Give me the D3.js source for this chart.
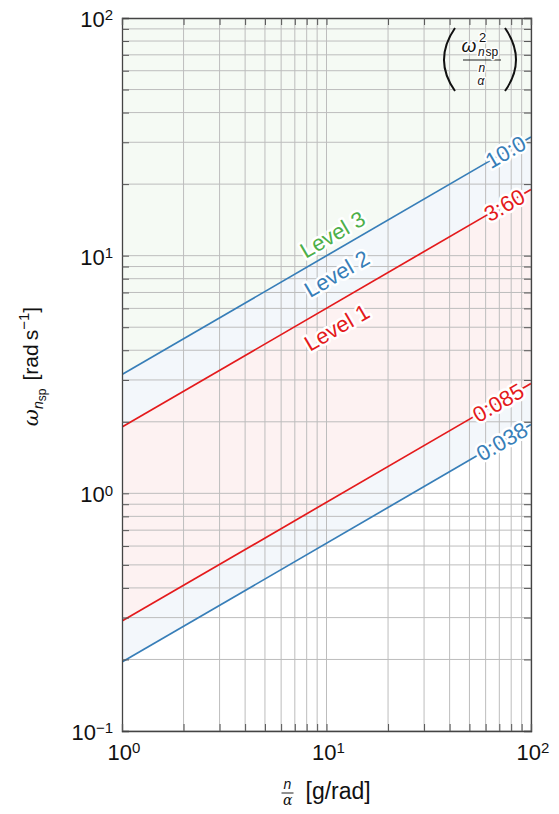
<!DOCTYPE html>
<html>
<head>
<script src="https://d3js.org/d3.v7.min.js"></script>
<style>
  body { margin: 0; background: #fff; }
  text { font-family: "Liberation Sans", Arial, sans-serif; fill: #111; }
  .halo { paint-order: stroke; stroke: #fff; stroke-width: 5px; stroke-linejoin: round; }
  .halo2 { paint-order: stroke; stroke: #fff; stroke-width: 3px; stroke-linejoin: round; }
</style>
</head>
<body>
<svg id="main" width="559" height="814"></svg>
<script>
// boundary values of omega^2/(n/alpha)
var boundaryNames = ["0:038", "0:085", "3:60", "10:0"];
// omega at n/alpha = 1 and at n/alpha = 100
var omegaAtLeft = [0.195, 0.29, 1.9, 3.16];
var omegaAtRight = [1.95, 2.9, 19.0, 31.6];
var boundaryLabelX = [72, 69, 74, 75];

var levelNames = ["Level 3", "Level 2", "Level 1"];
var levelX = [10.7, 11.2, 11.2];
var levelY = [12.3, 8.4, 5.0];

var xTicks = [1, 10, 100];
var yTicks = [0.1, 1, 10, 100];

var lineColors = ["#377eb8", "#e41a1c", "#e41a1c", "#377eb8"];
var levelColors = ["#4daf4a", "#377eb8", "#e41a1c"];
// bands: [lower boundary index, upper boundary index (-1 = top)]
var bandLow = [0, 1, 2, 3];
var bandHigh = [1, 2, 3, -1];
var bandColors = ["#377eb8", "#e41a1c", "#377eb8", "#4daf4a"];

var margin = {left: 122, top: 18, right: 28, bottom: 83};
var W = 559 - margin.left - margin.right;
var H = 814 - margin.top - margin.bottom;

var svg = d3.select("#main");
var g = svg.append("g").attr("transform", "translate(" + margin.left + "," + margin.top + ")");

var x = d3.scaleLog().domain([1, 100]).range([0, W]);
var y = d3.scaleLog().domain([0.1, 100]).range([H, 0]);

svg.append("defs").append("clipPath").attr("id", "clip")
  .append("rect").attr("width", W).attr("height", H);

function pts(i) {
  return [[1, omegaAtLeft[i]], [100, omegaAtRight[i]]];
}
function omegaAt(i, xv) {
  var t = Math.log10(xv) / 2;
  return Math.pow(10, Math.log10(omegaAtLeft[i]) + t * (Math.log10(omegaAtRight[i]) - Math.log10(omegaAtLeft[i])));
}

var plot = g.append("g").attr("clip-path", "url(#clip)");

// filled bands
bandLow.forEach(function(lo, k) {
  var hi = bandHigh[k];
  var upper = hi < 0 ? [[100, 1000], [1, 1000]] : pts(hi).reverse();
  var poly = pts(lo).concat(upper);
  plot.append("path")
    .attr("d", "M" + poly.map(function(p) { return x(p[0]) + "," + y(p[1]); }).join("L") + "Z")
    .attr("fill", bandColors[k]).attr("fill-opacity", 0.06);
});

// grid
plot.selectAll(".gx").data(x.ticks()).enter().append("line")
  .attr("x1", function(d) { return x(d); }).attr("x2", function(d) { return x(d); })
  .attr("y1", 0).attr("y2", H).attr("stroke", "#bdbdbd").attr("stroke-width", 1);
plot.selectAll(".gy").data(y.ticks()).enter().append("line")
  .attr("y1", function(d) { return y(d); }).attr("y2", function(d) { return y(d); })
  .attr("x1", 0).attr("x2", W).attr("stroke", "#bdbdbd").attr("stroke-width", 1);

// boundary lines
var line = d3.line().x(function(p) { return x(p[0]); }).y(function(p) { return y(p[1]); });
boundaryNames.forEach(function(name, i) {
  plot.append("path").attr("d", line(pts(i)))
    .attr("fill", "none").attr("stroke", lineColors[i]).attr("stroke-width", 1.7);
});

// frame ticks (inward)
var tickSize = 7;
var axes = [
  d3.axisLeft(y).tickValues(y.ticks()).tickSize(-tickSize).tickFormat(""),
  d3.axisRight(y).tickValues(y.ticks()).tickSize(-tickSize).tickFormat(""),
  d3.axisBottom(x).tickValues(x.ticks()).tickSize(-tickSize).tickFormat(""),
  d3.axisTop(x).tickValues(x.ticks()).tickSize(-tickSize).tickFormat("")
];
var axisPos = ["translate(0,0)", "translate(" + W + ",0)", "translate(0," + H + ")", "translate(0,0)"];
axes.forEach(function(a, k) {
  var ag = g.append("g").attr("transform", axisPos[k]).call(a);
  ag.selectAll("line").attr("stroke", "#555");
  ag.select(".domain").attr("stroke", "#444").attr("stroke-width", 1.3);
});

// tick labels
function powerLabel(sel, v) {
  var e = Math.round(Math.log10(v));
  sel.append("tspan").text("10");
  sel.append("tspan").attr("dy", "-0.45em").attr("font-size", "15px").text(e < 0 ? "\u2212" + (-e) : e);
}
yTicks.forEach(function(v) {
  var t = g.append("text").attr("x", -9).attr("y", y(v) + 9)
    .attr("text-anchor", "end").attr("font-size", "22px");
  powerLabel(t, v);
});
xTicks.forEach(function(v) {
  var t = g.append("text").attr("x", x(v) + 2).attr("y", H + 29)
    .attr("text-anchor", "middle").attr("font-size", "22px");
  powerLabel(t, v);
});

// boundary labels along the lines
var dx = x(100) - x(1);
boundaryNames.forEach(function(name, i) {
  var ang = Math.atan2(y(omegaAtRight[i]) - y(omegaAtLeft[i]), dx) * 180 / Math.PI;
  var lx = boundaryLabelX[i], ly = omegaAt(i, lx);
  g.append("text").attr("class", "halo")
    .attr("transform", "translate(" + x(lx) + "," + y(ly) + ") rotate(" + ang + ")")
    .attr("text-anchor", "middle").attr("dy", "0.36em")
    .attr("font-size", "22px").style("fill", lineColors[i]).text(name);
});

// level labels
var angL = Math.atan2(y(omegaAtRight[3]) - y(omegaAtLeft[3]), dx) * 180 / Math.PI;
levelNames.forEach(function(name, k) {
  g.append("text").attr("class", "halo")
    .attr("transform", "translate(" + x(levelX[k]) + "," + y(levelY[k]) + ") rotate(" + angL + ")")
    .attr("text-anchor", "middle").attr("dy", "0.36em")
    .attr("font-size", "22px").style("fill", levelColors[k]).text(name);
});

// legend in the top right corner: (omega^2 / (n/alpha))
var lg = g.append("g").attr("transform", "translate(" + (x(100) - 51) + ",42)");
function paren(s) {
  var xo = s * 25;
  return "M" + xo + ",-32 Q" + (xo + s * 22) + ",0 " + xo + ",31";
}
lg.append("path").attr("d", paren(-1)).attr("fill", "none").attr("stroke", "#111").attr("stroke-width", 2);
lg.append("path").attr("d", paren(1)).attr("fill", "none").attr("stroke", "#111").attr("stroke-width", 2);
lg.append("line").attr("x1", -17).attr("x2", 21).attr("y1", 0).attr("y2", 0).attr("stroke", "#222").attr("stroke-width", 1.2);
lg.append("text").attr("class", "halo2").attr("x", -18.5).attr("y", -8).attr("font-size", "19px")
  .style("font-style", "italic").attr("font-family", "DejaVu Serif").text("\u03c9");
lg.append("text").attr("class", "halo2").attr("x", -1).attr("y", -18.5).attr("font-size", "13px").text("2");
lg.append("text").attr("class", "halo2").attr("x", -2).attr("y", -4.5).attr("font-size", "12px").style("font-style", "italic").text("n");
lg.append("text").attr("class", "halo2").attr("x", 5.5).attr("y", -4).attr("font-size", "12px").text("sp");
lg.append("text").attr("class", "halo2").attr("x", -1.5).attr("y", 11.6).attr("font-size", "12px").style("font-style", "italic").text("n");
lg.append("text").attr("class", "halo2").attr("x", -2.5).attr("y", 25.4).attr("font-size", "12px").style("font-style", "italic")
  .attr("font-family", "DejaVu Serif").text("\u03b1");

// x axis title
var xt = g.append("g").attr("transform", "translate(" + (W / 2) + "," + (H + 64) + ")");
xt.append("line").attr("x1", -45).attr("x2", -33).attr("y1", -2).attr("y2", -2).attr("stroke", "#222");
var xtt = xt.append("text");
xtt.append("tspan").attr("x", -43).attr("y", -6).attr("font-size", "14px").style("font-style", "italic").text("n");
xtt.append("tspan").attr("x", -43.5).attr("y", 10).attr("font-size", "14px").style("font-style", "italic")
  .attr("font-family", "DejaVu Serif").text("\u03b1");
xtt.append("tspan").attr("x", -21).attr("y", 4).attr("font-size", "23px").text("[g/rad]");

// y axis title
var yt = svg.append("text").attr("transform", "translate(38," + (margin.top + H / 2 - 8) + ") rotate(-90)")
  .attr("text-anchor", "middle").attr("font-size", "21px");
yt.append("tspan").style("font-style", "italic").attr("font-family", "DejaVu Serif").text("\u03c9");
yt.append("tspan").attr("dy", "5").attr("font-size", "14px").style("font-style", "italic").text("n");
yt.append("tspan").attr("dy", "3").attr("font-size", "12px").text("sp");
yt.append("tspan").attr("dy", "-8").attr("dx", "8").text("[rad\u2009s");
yt.append("tspan").attr("dy", "-9").attr("font-size", "15px").text("\u22121");
yt.append("tspan").attr("dy", "9").text("]");
</script>
</body>
</html>
